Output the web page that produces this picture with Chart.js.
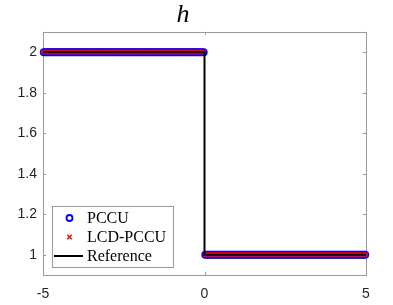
<!DOCTYPE html>
<html>
<head>
<meta charset="utf-8">
<script src="https://cdn.jsdelivr.net/npm/chart.js@4.4.1/dist/chart.umd.min.js"></script>
<style>
  html, body { margin: 0; padding: 0; background: #ffffff; }
  #wrap { width: 393px; height: 305px; position: relative; }
</style>
</head>
<body>
<div id="wrap"><canvas id="hChart"></canvas></div>
<script>
// Cell centres of the numerical solutions (200 cells on [-5, 5])
const cellX = [
  -4.975, -4.925, -4.875, -4.825, -4.775, -4.725, -4.675, -4.625, -4.575, -4.525,
  -4.475, -4.425, -4.375, -4.325, -4.275, -4.225, -4.175, -4.125, -4.075, -4.025,
  -3.975, -3.925, -3.875, -3.825, -3.775, -3.725, -3.675, -3.625, -3.575, -3.525,
  -3.475, -3.425, -3.375, -3.325, -3.275, -3.225, -3.175, -3.125, -3.075, -3.025,
  -2.975, -2.925, -2.875, -2.825, -2.775, -2.725, -2.675, -2.625, -2.575, -2.525,
  -2.475, -2.425, -2.375, -2.325, -2.275, -2.225, -2.175, -2.125, -2.075, -2.025,
  -1.975, -1.925, -1.875, -1.825, -1.775, -1.725, -1.675, -1.625, -1.575, -1.525,
  -1.475, -1.425, -1.375, -1.325, -1.275, -1.225, -1.175, -1.125, -1.075, -1.025,
  -0.975, -0.925, -0.875, -0.825, -0.775, -0.725, -0.675, -0.625, -0.575, -0.525,
  -0.475, -0.425, -0.375, -0.325, -0.275, -0.225, -0.175, -0.125, -0.075, -0.025,
  0.025, 0.075, 0.125, 0.175, 0.225, 0.275, 0.325, 0.375, 0.425, 0.475,
  0.525, 0.575, 0.625, 0.675, 0.725, 0.775, 0.825, 0.875, 0.925, 0.975,
  1.025, 1.075, 1.125, 1.175, 1.225, 1.275, 1.325, 1.375, 1.425, 1.475,
  1.525, 1.575, 1.625, 1.675, 1.725, 1.775, 1.825, 1.875, 1.925, 1.975,
  2.025, 2.075, 2.125, 2.175, 2.225, 2.275, 2.325, 2.375, 2.425, 2.475,
  2.525, 2.575, 2.625, 2.675, 2.725, 2.775, 2.825, 2.875, 2.925, 2.975,
  3.025, 3.075, 3.125, 3.175, 3.225, 3.275, 3.325, 3.375, 3.425, 3.475,
  3.525, 3.575, 3.625, 3.675, 3.725, 3.775, 3.825, 3.875, 3.925, 3.975,
  4.025, 4.075, 4.125, 4.175, 4.225, 4.275, 4.325, 4.375, 4.425, 4.475,
  4.525, 4.575, 4.625, 4.675, 4.725, 4.775, 4.825, 4.875, 4.925, 4.975
];

const pccuH = [
  2, 2, 2, 2, 2, 2, 2, 2, 2, 2, 2, 2, 2, 2, 2, 2, 2, 2, 2, 2,
  2, 2, 2, 2, 2, 2, 2, 2, 2, 2, 2, 2, 2, 2, 2, 2, 2, 2, 2, 2,
  2, 2, 2, 2, 2, 2, 2, 2, 2, 2, 2, 2, 2, 2, 2, 2, 2, 2, 2, 2,
  2, 2, 2, 2, 2, 2, 2, 2, 2, 2, 2, 2, 2, 2, 2, 2, 2, 2, 2, 2,
  2, 2, 2, 2, 2, 2, 2, 2, 2, 2, 2, 2, 2, 2, 2, 2, 2, 2, 2, 2,
  1, 1, 1, 1, 1, 1, 1, 1, 1, 1, 1, 1, 1, 1, 1, 1, 1, 1, 1, 1,
  1, 1, 1, 1, 1, 1, 1, 1, 1, 1, 1, 1, 1, 1, 1, 1, 1, 1, 1, 1,
  1, 1, 1, 1, 1, 1, 1, 1, 1, 1, 1, 1, 1, 1, 1, 1, 1, 1, 1, 1,
  1, 1, 1, 1, 1, 1, 1, 1, 1, 1, 1, 1, 1, 1, 1, 1, 1, 1, 1, 1,
  1, 1, 1, 1, 1, 1, 1, 1, 1, 1, 1, 1, 1, 1, 1, 1, 1, 1, 1, 1
];

const lcdH = [
  2, 2, 2, 2, 2, 2, 2, 2, 2, 2, 2, 2, 2, 2, 2, 2, 2, 2, 2, 2,
  2, 2, 2, 2, 2, 2, 2, 2, 2, 2, 2, 2, 2, 2, 2, 2, 2, 2, 2, 2,
  2, 2, 2, 2, 2, 2, 2, 2, 2, 2, 2, 2, 2, 2, 2, 2, 2, 2, 2, 2,
  2, 2, 2, 2, 2, 2, 2, 2, 2, 2, 2, 2, 2, 2, 2, 2, 2, 2, 2, 2,
  2, 2, 2, 2, 2, 2, 2, 2, 2, 2, 2, 2, 2, 2, 2, 2, 2, 2, 2, 2,
  1, 1, 1, 1, 1, 1, 1, 1, 1, 1, 1, 1, 1, 1, 1, 1, 1, 1, 1, 1,
  1, 1, 1, 1, 1, 1, 1, 1, 1, 1, 1, 1, 1, 1, 1, 1, 1, 1, 1, 1,
  1, 1, 1, 1, 1, 1, 1, 1, 1, 1, 1, 1, 1, 1, 1, 1, 1, 1, 1, 1,
  1, 1, 1, 1, 1, 1, 1, 1, 1, 1, 1, 1, 1, 1, 1, 1, 1, 1, 1, 1,
  1, 1, 1, 1, 1, 1, 1, 1, 1, 1, 1, 1, 1, 1, 1, 1, 1, 1, 1, 1
];

// Exact solution (step at x = 0)
const refX = [-5, 0, 0, 5];
const refH = [2, 2, 1, 1];

const xTicks = [-5, 0, 5];
const yTicks = [1, 1.2, 1.4, 1.6, 1.8, 2];
const seriesNames = ['PCCU', 'LCD-PCCU', 'Reference'];

function toPoints(xs, ys) {
  return xs.map((x, i) => ({ x: x, y: ys[i] }));
}

const AXIS_COLOR = '#9a9a9a';
const TEXT_COLOR = '#262626';

// box round the axes + inward tick marks (MATLAB look)
const boxPlugin = {
  id: 'boxPlugin',
  beforeDatasetsDraw(chart) {
    const { ctx, chartArea: a, scales } = chart;
    ctx.save();
    ctx.strokeStyle = AXIS_COLOR;
    ctx.lineWidth = 1;
    ctx.strokeRect(Math.round(a.left) + 0.5, Math.round(a.top) + 0.5,
      Math.round(a.right - a.left), Math.round(a.bottom - a.top));
    const len = 3;
    ctx.beginPath();
    xTicks.forEach(v => {
      const px = Math.round(scales.x.getPixelForValue(v)) + 0.5;
      ctx.moveTo(px, a.bottom); ctx.lineTo(px, a.bottom - len);
      ctx.moveTo(px, a.top); ctx.lineTo(px, a.top + len);
    });
    yTicks.forEach(v => {
      const py = Math.round(scales.y.getPixelForValue(v)) + 0.5;
      ctx.moveTo(a.left, py); ctx.lineTo(a.left + len, py);
      ctx.moveTo(a.right, py); ctx.lineTo(a.right - len, py);
    });
    ctx.stroke();
    ctx.restore();
  }
};

// legend box in the lower left corner of the axes
const legendBoxPlugin = {
  id: 'legendBoxPlugin',
  afterDraw(chart) {
    const { ctx, chartArea: a } = chart;
    const w = 121, h = 61;
    const left = a.left + 9;
    const top = a.bottom - 8 - h;
    ctx.save();
    ctx.fillStyle = '#ffffff';
    ctx.fillRect(left, top, w, h);
    ctx.strokeStyle = AXIS_COLOR;
    ctx.lineWidth = 1;
    ctx.strokeRect(Math.round(left) + 0.5, Math.round(top) + 0.5, w, h);

    const rows = [top + 12, top + 31, top + 50];
    const mx = left + 17.5;

    // PCCU marker
    ctx.strokeStyle = '#0000ff';
    ctx.lineWidth = 1.8;
    ctx.beginPath();
    ctx.arc(mx, rows[0], 3, 0, Math.PI * 2);
    ctx.stroke();

    // LCD-PCCU marker
    ctx.strokeStyle = '#ff0000';
    ctx.lineWidth = 1.5;
    ctx.beginPath();
    ctx.moveTo(mx - 2.2, rows[1] - 2.2); ctx.lineTo(mx + 2.2, rows[1] + 2.2);
    ctx.moveTo(mx - 2.2, rows[1] + 2.2); ctx.lineTo(mx + 2.2, rows[1] - 2.2);
    ctx.stroke();

    // Reference line sample
    ctx.strokeStyle = '#000000';
    ctx.lineWidth = 2;
    ctx.beginPath();
    ctx.moveTo(left + 2, rows[2]); ctx.lineTo(left + 31, rows[2]);
    ctx.stroke();

    ctx.fillStyle = '#000000';
    ctx.font = '16px "Liberation Serif", serif';
    ctx.textBaseline = 'middle';
    ctx.textAlign = 'left';
    seriesNames.forEach((name, i) => {
      ctx.fillText(name, left + 35, rows[i] + 1);
    });
    ctx.restore();
  }
};

const canvas = document.getElementById('hChart');

new Chart(canvas, {
  type: 'scatter',
  data: {
    datasets: [
      {
        label: seriesNames[0],
        data: toPoints(cellX, pccuH),
        pointStyle: 'circle',
        pointRadius: 3.2,
        pointBorderWidth: 1.6,
        pointBorderColor: '#0000ff',
        pointBackgroundColor: 'rgba(0,0,0,0)',
        showLine: false,
        clip: false,
        order: 3
      },
      {
        label: seriesNames[1],
        data: toPoints(cellX, lcdH),
        pointStyle: 'crossRot',
        pointRadius: 3,
        pointBorderWidth: 1.5,
        pointBorderColor: '#ff0000',
        pointBackgroundColor: '#ff0000',
        showLine: false,
        clip: false,
        order: 2
      },
      {
        label: seriesNames[2],
        data: toPoints(refX, refH),
        showLine: true,
        borderColor: '#000000',
        borderWidth: 2,
        pointRadius: 0,
        tension: 0,
        clip: false,
        order: 1
      }
    ]
  },
  options: {
    responsive: true,
    maintainAspectRatio: false,
    animation: false,
    layout: { padding: { left: 0, right: 27, top: 0, bottom: 0 } },
    plugins: {
      legend: { display: false },
      tooltip: { enabled: false },
      title: {
        display: true,
        text: 'h',
        color: '#000000',
        font: { family: '"Liberation Serif", serif', style: 'italic', size: 26, weight: 'normal', lineHeight: 1.15 },
        padding: { top: 0, bottom: 2 }
      }
    },
    scales: {
      x: {
        type: 'linear',
        min: -5,
        max: 5,
        afterBuildTicks: s => { s.ticks = xTicks.map(v => ({ value: v })); },
        afterFit: s => { s.height = 30; },
        grid: { display: false, drawTicks: false },
        border: { display: false },
        ticks: {
          color: TEXT_COLOR,
          padding: 11,
          maxRotation: 0,
          font: { family: '"Liberation Sans", Arial, sans-serif', size: 14 },
          callback: v => String(v)
        }
      },
      y: {
        type: 'linear',
        min: 0.9,
        max: 2.1,
        afterBuildTicks: s => { s.ticks = yTicks.map(v => ({ value: v })); },
        afterFit: s => { s.width = 43; },
        grid: { display: false, drawTicks: false },
        border: { display: false },
        ticks: {
          color: TEXT_COLOR,
          padding: 6,
          font: { family: '"Liberation Sans", Arial, sans-serif', size: 14 },
          callback: v => String(v)
        }
      }
    }
  },
  plugins: [boxPlugin, legendBoxPlugin]
});
</script>
</body>
</html>
